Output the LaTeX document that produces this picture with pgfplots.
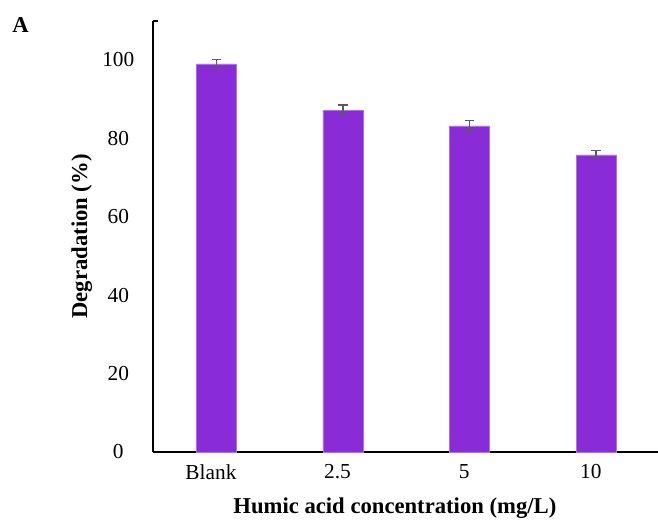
\documentclass[border=0pt]{standalone}
\usepackage{fontspec}
\setmainfont{Liberation Serif}
\usepackage{pgfplots}
\pgfplotsset{compat=1.18}
\definecolor{barviolet}{RGB}{138,43,216}
\definecolor{baredge}{RGB}{170,110,240}
\definecolor{errgray}{RGB}{90,90,90}
\begin{document}
\begin{tikzpicture}
\begin{axis}[
  anchor=south west, at={(0,0)},
  scale only axis,
  width=378.75pt, height=323.4pt,
  xmin=-0.5, xmax=3.489,
  ymin=0, ymax=110,
  axis lines*=left,
  axis line style={black, line width=1.1pt},
  xtick={0,1,2,3},
  xticklabels={Blank,2.5,5,10},
  ytick={0,20,40,60,80,100},
  major tick length=0pt,
  tick label style={font=\fontsize{16}{19}\selectfont},
  /pgf/number format/assume math mode=true,
  xticklabel style={anchor=north, yshift=-6pt, xshift=-4pt},
  yticklabel style={anchor=center, xshift=-26pt},
  xlabel={\textbf{Humic acid concentration (mg/L)}},
  ylabel={\textbf{Degradation (\%)}},
  label style={font=\fontsize{17}{20}\selectfont},
  xlabel style={at={(rel axis cs:0.479,0)}, anchor=center, yshift=-42pt},
  ylabel style={at={(rel axis cs:0,0.5)}, anchor=center, rotate=0, yshift=53.5pt},
  ybar, bar width=30pt,
  clip=false,
]
\addplot[fill=barviolet, draw=baredge, line width=0.5pt,
  error bars/.cd, y dir=both, y explicit,
  error bar style={errgray, line width=1pt},
  error mark options={errgray, line width=1pt, mark size=3.5pt, rotate=90}]
  coordinates {
  (0,99.0) +- (0,1.1)
  (1,87.2) +- (0,1.3)
  (2,83.2) +- (0,1.3)
  (3,75.8) +- (0,1.1)
};
\end{axis}
\draw[black, line width=1.1pt] (0,323.4pt) -- ++(4pt,0);
\node[anchor=north west, font=\fontsize{17}{20}\selectfont\bfseries] at (-109pt,329.5pt) {A};
\pgfresetboundingbox
\useasboundingbox (-114.75pt,-53.25pt) rectangle (378.75pt,339pt);
\end{tikzpicture}
\end{document}
